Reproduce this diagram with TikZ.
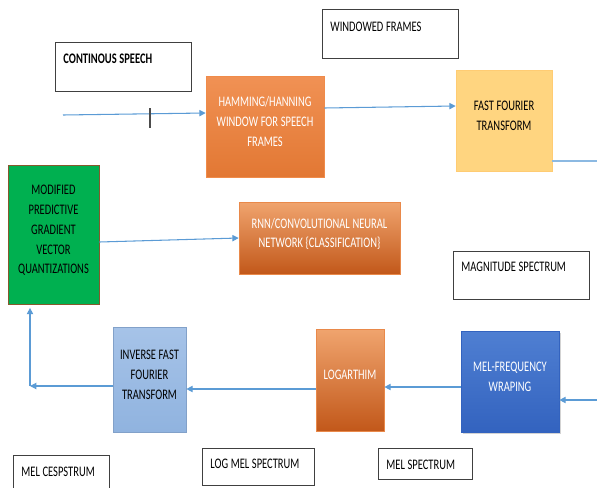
\documentclass[tikz,border=0pt]{standalone}
\usepackage{fontspec}
\setmainfont{Carlito}[FakeStretch=0.72]
\usetikzlibrary{arrows.meta}
\usetikzlibrary{calc, positioning, shadows}
\definecolor{Flow}{HTML}{5B9BD5}
\definecolor{WarmTop}{HTML}{F0A46E}
\definecolor{WarmBot}{HTML}{C2581A}
\definecolor{Warm}{HTML}{E9894A}
\definecolor{Ham}{HTML}{EE7E36}
\definecolor{Fft}{HTML}{FFD580}
\definecolor{Mpg}{HTML}{00B050}
\definecolor{MelTop}{HTML}{4F7FD2}
\definecolor{MelBot}{HTML}{3363BF}
\definecolor{IfftTop}{HTML}{A6C3E8}
\definecolor{IfftBot}{HTML}{90B3DF}
\newcommand{\boxfont}{\fontsize{8.3}{11.3}\selectfont\spaceskip=1.5pt plus 0.5pt minus 0.3pt\relax}

\begin{document}
\begin{tikzpicture}[x=0.02cm, y=-0.02cm, font=\boxfont,
  tag/.style n args={3}{draw=black!75, line width=0.5pt, anchor=north west, align=flush left,
    inner xsep=0.16cm, inner ysep=0pt, text width=#1, text height=#2, text depth=#3},
  stage/.style 2 args={minimum width=#1, minimum height=#2, inner sep=1pt, align=center, text depth=0.2cm},
  warm/.style={draw=Warm, top color=WarmTop, bottom color=WarmBot, text=white},
  flow/.style={draw=Flow, line width=0.6pt, -{Triangle[length=3.6pt,width=3.6pt]}}]
\useasboundingbox (0,0) rectangle (597,487);
% processing stages
\node[stage={2.36cm}{2.02cm}, draw=Ham!90, top color=Ham!85!white, bottom color=Ham!95!black, text=white] (ham) at (265,126.5) {HAMMING/HANNING\\WINDOW FOR SPEECH\\FRAMES};
\node[stage={1.92cm}{2.02cm}, draw=Fft!90!orange, fill=Fft] (fft) at (504,120.5) {FAST FOURIER\\TRANSFORM};
\node[stage={1.82cm}{2.78cm}, draw=brown!70!black, fill=Mpg] (mpg) at (53.5,234.5) {MODIFIED\\PREDICTIVE\\GRADIENT\\VECTOR\\QUANTIZATIONS};
\node[stage={3.22cm}{1.44cm}, warm] (rnn) at (319.5,238) {RNN/CONVOLUTIONAL NEURAL\\NETWORK \{CLASSIFICATION\}};
\node[stage={1.96cm}{2.02cm}, draw=MelBot, top color=MelTop, bottom color=MelBot, text=white,
  drop shadow={opacity=0.35, shadow xshift=1.2pt, shadow yshift=-1.2pt}] (mel) at (510,381.5) {MEL-FREQUENCY\\WRAPING};
\node[stage={1.36cm}{2.04cm}, warm] (log) at (350,380) {LOGARTHIM};
\node[stage={1.46cm}{2.10cm}, draw=IfftBot!90!black, top color=IfftTop, bottom color=IfftBot] (ifft) at (149.5,379.5) {INVERSE FAST\\FOURIER\\TRANSFORM};

% text boxes
\node[tag={2.40cm}{0.42cm}{0.56cm}, font=\boxfont\bfseries] (speech) at (55,42) {CONTINOUS SPEECH};
\node[tag={2.40cm}{0.44cm}{0.54cm}] (windowed) at (322,9) {WINDOWED FRAMES};
\node[tag={2.40cm}{0.40cm}{0.56cm}] (magnitude) at (453,251) {MAGNITUDE SPECTRUM};
\node[tag={1.60cm}{0.42cm}{0.24cm}] (cepstrum) at (13,455) {MEL CESPSTRUM};
\node[tag={1.92cm}{0.40cm}{0.34cm}] (logmel) at (202,448) {LOG MEL SPECTRUM};
\node[tag={1.56cm}{0.42cm}{0.20cm}] (melspec) at (378,448) {MEL SPECTRUM};

\coordinate (src) at (63,115);
\coordinate (bend) at (30,386);
\coordinate (exit) at (597,161);
\coordinate (entry) at (597,400);
\draw[flow] (src) -- (ham.west |- 0,113);
\draw[black!70, line width=0.6pt] (150,108) -- (150,128);
\draw[flow] (ham.east |- 0,108) -- (fft.west |- 0,106);
\draw[draw=Flow!70, line width=0.6pt] (fft.east |- exit) -- (exit);
\draw[flow] (mpg.east |- 0,242) -- (rnn.west |- 0,238);
\draw[flow] (entry) -- (mel.east |- entry);
\draw[flow] (mel.west |- 0,387) -- (log.east |- 0,387);
\draw[flow] (log.west |- 0,389) -- (ifft.east |- 0,389);
\draw[flow] (ifft.west |- bend) -- (bend);
\draw[flow] (bend) -- ([yshift=-2pt]bend |- mpg.south);
\end{tikzpicture}
\end{document}
